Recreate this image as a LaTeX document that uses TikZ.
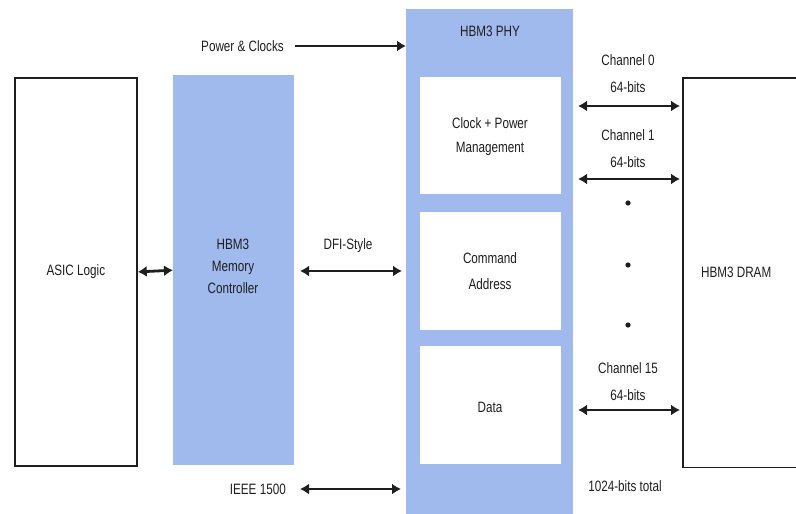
\documentclass[tikz,border=0pt]{standalone}
\usepackage{fontspec}
\setmainfont{Liberation Sans}[FakeStretch=0.78]
\usetikzlibrary{arrows.meta}
\definecolor{blockblue}{HTML}{A1BAEE}
\definecolor{ink}{HTML}{1E1E1E}
\tikzset{
  every node/.style={font=\fontsize{15}{18}\selectfont, text=ink, inner sep=0pt},
  box/.style={draw=ink, line width=1.8pt, fill=white, anchor=north west},
  blue/.style={fill=blockblue, anchor=north west},
  inner/.style={fill=white, anchor=north west},
  link/.style={line width=2.8pt, draw=ink, {Latex[length=9pt,width=11pt]}-{Latex[length=9pt,width=11pt]}},
  feed/.style={line width=2.8pt, draw=ink, -{Latex[length=9pt,width=11pt]}},
  lbl/.style={align=center}
}
\begin{document}
\begin{tikzpicture}[x=1pt,y=-1pt]
\useasboundingbox (0,0) rectangle (796,514);

% main blocks
\node[box, minimum width=122pt, minimum height=388pt] (asic) at (14,77) {ASIC Logic};
\node[blue, minimum width=121pt, minimum height=390pt] (mc) at (173,75) {};
\node[lbl] (mclbl) at (233,266) {HBM3\\[4pt]Memory\\[4pt]Controller};
\node[blue, minimum width=167pt, minimum height=510pt] (phy) at (406,9) {};
\node[lbl] (phylbl) at (490,31) {HBM3 PHY};

% PHY sub-blocks
\node[inner, minimum width=141pt, minimum height=117pt] (clk) at (420,77) {};
\node[lbl] (clklbl) at (490,137) {Clock + Power\\[6pt]Management};
\node[inner, minimum width=141pt, minimum height=118pt] (cmd) at (420,212) {};
\node[lbl] (cmdlbl) at (490,271) {Command\\[8pt]Address};
\node[inner, minimum width=141pt, minimum height=118pt] (dat) at (420,346) {};
\node[lbl] (datlbl) at (490,407) {Data};

% DRAM block runs off the right edge
\node[minimum width=106pt, minimum height=389pt, anchor=north west] (dram) at (683,78) {HBM3 DRAM};
\draw[ink, line width=1.8pt] ([xshift=20pt]dram.north east) -- (dram.north west) -- (dram.south west) -- ([xshift=20pt]dram.south east);

% left-side interfaces
\draw[link] (asic.east) -- (mc.west);
\node[lbl] (dfi) at (348,246) {DFI-Style};
\coordinate (dfiL) at (300,271);
\draw[link] (dfiL) -- ([xshift=-4pt]dfiL -| phy.west);
\node[lbl, anchor=east] (pwr) at (284,46) {Power \& Clocks};
\draw[feed] ([xshift=11pt]pwr.east) -- (pwr.east -| phy.west);
\node[lbl, anchor=east] (ieee) at (286,489) {IEEE 1500};
\draw[link] ([xshift=14pt]ieee.east) -- ([xshift=-5pt]ieee.east -| phy.west);

% channels to DRAM
\node[lbl] (ch0) at (628,74) {Channel 0\\[9pt]64-bits};
\coordinate (c0) at (578,106);
\draw[link] (c0) -- ([xshift=-3pt]c0 -| dram.west);
\node[lbl] (ch1) at (628,149) {Channel 1\\[9pt]64-bits};
\coordinate (c1) at (578,179);
\draw[link] (c1) -- ([xshift=-3pt]c1 -| dram.west);
\node[lbl] (ch15) at (628,382) {Channel 15\\[9pt]64-bits};
\coordinate (c15) at (578,410);
\draw[link] (c15) -- ([xshift=-3pt]c15 -| dram.west);
\foreach \yy in {203,265,325} \fill[ink] (628,\yy) circle (2.6pt);
\node[lbl] (tot) at (625,486) {1024-bits total};
\end{tikzpicture}
\end{document}
